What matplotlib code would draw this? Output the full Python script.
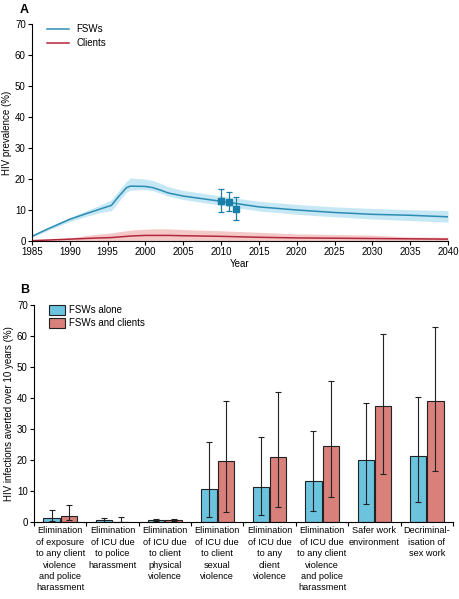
import matplotlib.pyplot as plt
import numpy as np

# Panel A: modelled HIV prevalence
years = [1985, 1987, 1990, 1992, 1994, 1995.5, 1996.5, 1997.5, 1998, 2000, 2001, 2002, 2003, 2005,
         2010, 2015, 2020, 2025, 2030, 2035, 2040]
fsw_mid = [1.5, 3.8, 7.0, 8.7, 10.3, 11.5, 14.5, 17.2, 17.7, 17.6, 17.2, 16.4, 15.5, 14.5,
           12.8, 11.0, 10.0, 9.2, 8.6, 8.3, 7.8]
fsw_lo = [1.2, 3.3, 6.3, 7.8, 9.2, 9.8, 12.8, 15.8, 16.4, 16.6, 16.2, 15.4, 14.5, 13.4,
          11.5, 9.7, 8.6, 7.8, 7.1, 6.6, 6.1]
fsw_hi = [1.8, 4.3, 7.6, 9.6, 11.6, 13.3, 16.3, 19.3, 20.3, 20.0, 19.5, 18.6, 17.5, 16.3,
          14.5, 12.8, 11.8, 11.0, 10.5, 10.1, 9.8]
cli_mid = [0.1, 0.3, 0.6, 0.8, 1.0, 1.1, 1.3, 1.5, 1.6, 1.8, 1.8, 1.8, 1.8, 1.7,
           1.5, 1.2, 1.0, 0.9, 0.8, 0.7, 0.6]
cli_lo = [0.0] * len(years)
cli_hi = [0.2, 0.5, 1.0, 1.7, 2.3, 2.6, 3.0, 3.3, 3.5, 3.8, 3.9, 3.9, 3.9, 3.7,
          3.3, 2.8, 2.3, 2.1, 1.9, 1.3, 1.2]
obs_year = [2010, 2011, 2012]
obs_val = [12.8, 12.7, 10.3]
obs_lo = [9.2, 9.8, 6.7]
obs_hi = [16.7, 15.7, 14.1]

# Panel B: infections averted
categories = ["Elimination\nof exposure\nto any client\nviolence\nand police\nharassment",
              "Elimination\nof ICU due\nto police\nharassment",
              "Elimination\nof ICU due\nto client\nphysical\nviolence",
              "Elimination\nof ICU due\nto client\nsexual\nviolence",
              "Elimination\nof ICU due\nto any\nclient\nviolence",
              "Elimination\nof ICU due\nto any client\nviolence\nand police\nharassment",
              "Safer work\nenvironment",
              "Decriminal-\nisation of\nsex work"]
fsw_alone = [1.3, 0.5, 0.5, 10.5, 11.3, 13.1, 19.9, 21.3]
fsw_alone_lo = [0.3, 0.0, 0.2, 1.5, 2.2, 3.5, 5.8, 6.4]
fsw_alone_hi = [4.0, 1.3, 1.0, 25.8, 27.5, 29.3, 38.4, 40.2]
fsw_cli = [2.0, 0.1, 0.5, 19.7, 21.0, 24.6, 37.4, 39.0]
fsw_cli_lo = [0.5, 0.0, 0.2, 3.2, 4.7, 8.0, 15.6, 16.4]
fsw_cli_hi = [5.6, 1.6, 1.0, 39.0, 42.0, 45.4, 60.6, 62.8]

blue = '#2b8cb5'
blue_band = '#c6e7f4'
red = '#b3273a'
red_band = '#f5c8c8'
bar_blue = '#6cc3de'
bar_red = '#d9807b'

plt.rcParams['font.family'] = 'Liberation Sans'
plt.rcParams['font.size'] = 7

fig = plt.figure(figsize=(4.6, 5.99), dpi=100)
W, H = 460, 599
axA = fig.add_axes([32 / W, 1 - 241 / H, 416 / W, 217 / H])
axB = fig.add_axes([34 / W, 1 - 522 / H, 419 / W, 217 / H])

# ---- panel A
axA.fill_between(years, fsw_lo, fsw_hi, color=blue_band, lw=0)
axA.fill_between(years, cli_lo, cli_hi, color=red_band, lw=0)
axA.plot(years, fsw_mid, color=blue, lw=1.1, label='FSWs')
axA.plot(years, cli_mid, color=red, lw=1.1, label='Clients')
yerr = [np.array(obs_val) - np.array(obs_lo), np.array(obs_hi) - np.array(obs_val)]
axA.errorbar(obs_year, obs_val, yerr=yerr, fmt='s', color='#1a7fa8', ms=4, capsize=2,
             elinewidth=0.9, capthick=0.9)
axA.set_xlim(1985, 2040)
axA.set_ylim(0, 70)
axA.set_xticks(range(1985, 2041, 5))
axA.set_yticks(range(0, 71, 10))
axA.set_xlabel('Year', labelpad=1)
axA.set_ylabel('HIV prevalence (%)', labelpad=2)
axA.legend(loc='upper left', frameon=False, handlelength=2.2, borderaxespad=0.3,
           labelspacing=0.4, bbox_to_anchor=(0.02, 1.03))
for s in ['top', 'right']:
    axA.spines[s].set_visible(False)
axA.tick_params(length=3, width=0.8, pad=1.5)
for s in ['left', 'bottom']:
    axA.spines[s].set_linewidth(0.8)
fig.text(20 / W, 1 - 10 / H, 'A', fontsize=9, fontweight='bold', va='center')

# ---- panel B
x = np.arange(len(categories))
bw = 0.31
off = 0.165
axB.bar(x - off, fsw_alone, bw, color=bar_blue, edgecolor='#222222', lw=0.8, label='FSWs alone')
axB.bar(x + off, fsw_cli, bw, color=bar_red, edgecolor='#222222', lw=0.8, label='FSWs and clients')
axB.errorbar(x - off, fsw_alone,
             yerr=[np.array(fsw_alone) - np.array(fsw_alone_lo), np.array(fsw_alone_hi) - np.array(fsw_alone)],
             fmt='none', ecolor='#222222', elinewidth=0.8, capsize=2, capthick=0.8)
axB.errorbar(x + off, fsw_cli,
             yerr=[np.array(fsw_cli) - np.array(fsw_cli_lo), np.array(fsw_cli_hi) - np.array(fsw_cli)],
             fmt='none', ecolor='#222222', elinewidth=0.8, capsize=2, capthick=0.8)
axB.set_xlim(-0.5, len(categories) - 0.5)
axB.set_ylim(0, 70)
axB.set_yticks(range(0, 71, 10))
axB.set_xticks(x)
axB.set_xticklabels(categories, fontsize=6.6, linespacing=1.35)
axB.set_xticks(np.arange(len(categories) + 1) - 0.5, minor=True)
axB.tick_params(axis='x', which='major', length=0, pad=3)
axB.tick_params(axis='x', which='minor', length=3, width=0.8)
axB.tick_params(axis='y', length=3, width=0.8, pad=1.5)
axB.set_ylabel('HIV infections averted over 10 years (%)', labelpad=2)
axB.legend(loc='upper left', frameon=False, handlelength=1.6, handleheight=1.1,
           labelspacing=0.3, handletextpad=0.4, borderaxespad=0.3, bbox_to_anchor=(0.02, 1.03))
for s in ['top', 'right']:
    axB.spines[s].set_visible(False)
for s in ['left', 'bottom']:
    axB.spines[s].set_linewidth(0.8)
fig.text(20 / W, 1 - 290 / H, 'B', fontsize=9, fontweight='bold', va='center')

fig.savefig('out.png', dpi=100)
